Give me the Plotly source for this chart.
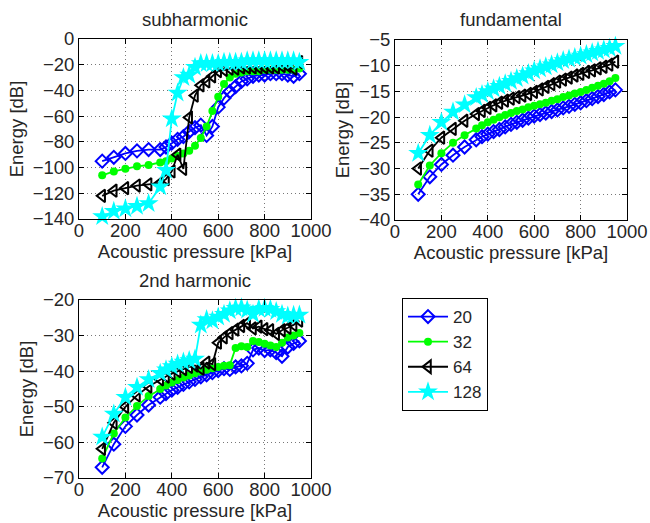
import plotly.graph_objects as go

# ---- data ----
pressure = [100, 150, 200, 250, 300, 350, 375, 400, 425, 450, 475, 500, 525, 550, 575,
            600, 625, 650, 675, 700, 725, 750, 775, 800, 825, 850, 875, 900, 925, 950]
series_names = ["20", "32", "64", "128"]

sub_20 = [-95, -92, -89, -87, -86, -86, -84, -81, -78, -76, -72, -69, -67, -75, -68,
          -53, -46, -41, -37, -33, -31, -29, -28, -28, -27, -27, -27, -28, -29, -27]
sub_32 = [-106, -103, -101, -99, -98, -96, -95, -93, -91, -89, -87, -83, -77, -68, -56,
          -45, -35, -30, -27, -26, -25, -25, -25, -24, -24, -24, -24, -24, -24, -23]
sub_64 = [-122, -118, -116, -114, -113, -112, -109, -103, -90, -101, -61, -44, -36, -33, -29,
          -25, -24, -23, -23, -22, -22, -22, -22, -22, -22, -22, -21, -21, -23, -18]
sub_128 = [-138, -134, -132, -130, -128, -115, -102, -62, -42, -30, -28, -22, -19, -19, -19,
           -19, -18, -18, -18, -18, -17, -17, -17, -17, -17, -17, -17, -17, -17, -18]

fund_20 = [-35.0, -31.6, -29.2, -27.4, -25.8, -24.4, -23.8, -23.3, -22.8, -22.4, -21.9, -21.4,
           -21.0, -20.6, -20.2, -19.8, -19.5, -19.2, -18.9, -18.6, -18.2, -17.9, -17.5, -17.2,
           -16.8, -16.4, -16.0, -15.6, -15.1, -14.7]
fund_32 = [-33.1, -29.4, -27.0, -25.0, -23.5, -22.2, -21.6, -21.0, -20.5, -20.0, -19.6, -19.2,
           -18.8, -18.5, -18.1, -17.8, -17.5, -17.2, -16.8, -16.5, -16.1, -15.8, -15.4, -15.1,
           -14.7, -14.3, -13.9, -13.5, -13.0, -12.4]
fund_64 = [-30.0, -26.5, -24.0, -22.3, -20.7, -19.4, -18.8, -18.2, -17.7, -17.2, -16.8, -16.4,
           -16.1, -15.8, -15.5, -15.1, -14.6, -14.1, -13.6, -13.1, -12.7, -12.3, -11.9, -11.6,
           -11.2, -10.9, -10.5, -10.2, -9.8, -9.2]
fund_128 = [-27.0, -23.5, -21.0, -19.0, -17.6, -16.2, -15.6, -15.0, -14.5, -14.0, -13.5, -13.0,
            -12.5, -12.0, -11.5, -11.0, -10.6, -10.2, -9.8, -9.4, -9.0, -8.7, -8.4, -8.1,
            -7.8, -7.5, -7.2, -6.9, -6.6, -6.2]

harm_20 = [-67.0, -60.5, -55.5, -52.3, -49.5, -47.3, -46.3, -45.3, -44.5, -43.7, -43.0, -42.3,
           -41.6, -41.0, -40.4, -39.8, -39.3, -39.5, -38.8, -38.5, -37.8, -34.0, -33.5, -34.2,
           -34.0, -34.8, -35.8, -33.2, -32.2, -31.5]
harm_32 = [-64.5, -57.5, -53.0, -49.8, -47.0, -45.0, -44.0, -43.2, -42.5, -41.8, -41.2, -40.6,
           -40.1, -39.6, -39.2, -38.8, -38.5, -38.3, -33.5, -33.0, -33.2, -31.5, -31.8, -32.3,
           -32.8, -33.2, -32.0, -30.5, -30.0, -29.3]
harm_64 = [-61.8, -54.5, -50.0, -46.8, -44.3, -42.3, -41.5, -40.7, -40.0, -39.4, -38.8, -38.4,
           -39.3, -37.6, -38.0, -32.0, -30.5, -29.3, -28.3, -27.3, -26.5, -28.0, -27.5, -28.2,
           -28.5, -29.5, -28.5, -27.8, -27.0, -25.8]
harm_128 = [-58.5, -52.0, -47.3, -44.5, -42.3, -40.6, -39.6, -38.7, -38.0, -37.4, -37.0, -36.6,
            -27.0, -25.5, -25.8, -24.8, -24.0, -23.0, -22.3, -22.2, -22.8, -24.0, -22.5, -22.3,
            -22.6, -23.2, -24.0, -24.5, -24.3, -24.2]

panel_titles = ["subharmonic", "fundamental", "2nd harmonic"]
x_ticks = [0, 200, 400, 600, 800, 1000]

# ---- styling ----
W, H = 650, 523
FONT = "Liberation Sans, Arial, Helvetica, sans-serif"
FS = 18.5
TXT = "#262626"
colors = ["#0000ff", "#00ff00", "#000000", "#00ffff"]
styles = [
    dict(symbol="diamond-open", size=10, line=dict(width=2, color=colors[0])),
    dict(symbol="circle", size=8, color=colors[1], line=dict(width=0)),
    dict(symbol="triangle-left-open", size=11, line=dict(width=2, color=colors[2])),
    dict(symbol="star", size=15, color=colors[3], line=dict(width=0)),
]

panels = [
    dict(data=[sub_20, sub_32, sub_64, sub_128], xpx=(79, 311), ypx=(39, 219),
         yr=[-140, 0], dy=20),
    dict(data=[fund_20, fund_32, fund_64, fund_128], xpx=(395, 627), ypx=(40, 220),
         yr=[-40, -5], dy=5),
    dict(data=[harm_20, harm_32, harm_64, harm_128], xpx=(79, 311), ypx=(300, 478),
         yr=[-70, -20], dy=10),
]

fig = go.Figure()
layout = dict(
    width=W, height=H, margin=dict(l=0, r=0, t=0, b=0, pad=0),
    paper_bgcolor="white", plot_bgcolor="white",
    font=dict(family=FONT, size=FS, color=TXT),
    showlegend=True,
    legend=dict(x=402 / W, y=1 - 298 / H, xanchor="left", yanchor="top",
                bordercolor="black", borderwidth=1, bgcolor="white",
                font=dict(size=17, family=FONT, color=TXT),
                tracegroupgap=0, itemwidth=40),
)
annotations = []
for i, p in enumerate(panels):
    ax = "" if i == 0 else str(i + 1)
    for j, (vals, name) in enumerate(zip(p["data"], series_names)):
        fig.add_trace(go.Scatter(
            x=pressure, y=vals, mode="lines+markers", name=name,
            line=dict(color=colors[j], width=1.8),
            marker=styles[j], showlegend=(i == 0), legendgroup=name,
            xaxis="x" + ax, yaxis="y" + ax, cliponaxis=False))
    common = dict(showline=True, mirror="ticks", linecolor="black", linewidth=1,
                  ticks="inside", ticklen=5, tickcolor="black", automargin=False,
                  showgrid=True, gridcolor="#777777", griddash="1px,3px", gridwidth=1,
                  zeroline=False, tickfont=dict(size=FS, family=FONT, color=TXT))
    layout["xaxis" + ax] = dict(
        common, domain=[p["xpx"][0] / W, p["xpx"][1] / W], range=[0, 1000],
        tickvals=x_ticks, anchor="y" + ax, ticklabelstandoff=-5,
        title=dict(text="Acoustic pressure [kPa]", standoff=0,
                   font=dict(size=FS, family=FONT, color=TXT)))
    layout["yaxis" + ax] = dict(
        common, domain=[1 - p["ypx"][1] / H, 1 - p["ypx"][0] / H], range=p["yr"],
        dtick=p["dy"], anchor="x" + ax,
        title=dict(text="Energy [dB]", standoff=4,
                   font=dict(size=FS, family=FONT, color=TXT)))
    annotations.append(dict(
        text=panel_titles[i], xref="paper", yref="paper",
        x=(p["xpx"][0] + p["xpx"][1]) / 2 / W, y=1 - (p["ypx"][0] - 20) / H,
        xanchor="center", yanchor="middle", showarrow=False,
        font=dict(size=FS, family=FONT, color=TXT)))
layout["annotations"] = annotations
fig.update_layout(**layout)
fig.write_html("out.html", config={"displayModeBar": False},
               post_script="document.body.style.margin='0';document.body.style.padding='0';"
                           "document.body.style.overflow='hidden';")
